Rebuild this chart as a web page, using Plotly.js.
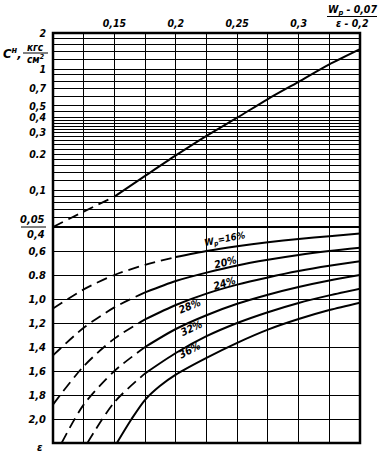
<!DOCTYPE html>
<html><head><meta charset="utf-8">
<script src="https://cdn.plot.ly/plotly-3.0.1.min.js"></script>
<style>html,body{margin:0;padding:0;background:#fff;}#chart{width:380px;height:454px;}</style>
</head><body><div id="chart"></div>
<script>
// ---- top scale: (Wp - 0,07)/(eps - 0,2)
const xGrid = [0.1,0.125,0.15,0.175,0.2,0.225,0.25,0.275,0.3,0.325,0.35];
const xTickText = ['','','0,15','','0,2','','0,25','','0,3','',''];

// ---- upper panel: C^н (log scale)
const cGrid = [2,1.8,1.6,1.4,1.2,1,0.9,0.8,0.7,0.6,0.5,0.45,0.4,0.38,0.36,0.34,0.32,0.3,0.28,0.26,0.24,0.22,0.2,0.18,0.16,0.14,0.12,0.1,0.09,0.08,0.07,0.06,0.05];
const cGridText = ['2','','','','','1','','','0,7','','0,5','','0,4','','','','','0,3','','','','','0.2','','','','','0,1','','','','',''];
const cX   = [0.1,0.125,0.15,0.175,0.2,0.225,0.25,0.275,0.3,0.325,0.35];
const cVal = [0.05,0.067,0.089,0.132,0.195,0.283,0.40,0.57,0.79,1.10,1.47];
const cSolidFrom = 0.15;

// ---- lower panel: eps for Wp curves
const eGrid = [0.4,0.6,0.8,1.0,1.2,1.4,1.6,1.8,2.0,2.2];
const eGridText = ['','0,6','0.8','1,0','1,2','1,4','1,6','1,8','2,0',''];
const wpNames = ['16%','20%','24%','28%','32%','36%'];
const x16 = [0.1,0.125,0.15,0.175,0.2,0.225,0.25,0.275,0.3,0.325,0.35];
const e16 = [1.08,0.92,0.80,0.715,0.65,0.60,0.56,0.527,0.50,0.477,0.455];
const x20 = [0.1,0.125,0.15,0.175,0.2,0.225,0.25,0.275,0.3,0.325,0.35];
const e20 = [1.47,1.24,1.07,0.945,0.85,0.78,0.72,0.673,0.633,0.60,0.572];
const x24 = [0.1,0.125,0.15,0.175,0.2,0.225,0.25,0.275,0.3,0.325,0.35];
const e24 = [1.88,1.56,1.33,1.17,1.05,0.955,0.88,0.82,0.767,0.723,0.686];
const x28 = [0.107,0.125,0.15,0.175,0.2,0.225,0.25,0.275,0.3,0.325,0.35];
const e28 = [2.2,1.88,1.6,1.4,1.25,1.135,1.04,0.964,0.90,0.846,0.80];
const x32 = [0.128,0.15,0.175,0.2,0.225,0.25,0.275,0.3,0.325,0.35];
const e32 = [2.2,1.86,1.62,1.45,1.31,1.2,1.11,1.033,0.97,0.914];
const x36 = [0.152,0.164,0.175,0.187,0.2,0.225,0.25,0.275,0.3,0.325,0.35];
const e36 = [2.2,2.0,1.84,1.725,1.63,1.49,1.365,1.255,1.167,1.092,1.03];
const wpSolidFrom = [0.2,0.175,0.175,0.175,0.175,0];

// ---------------------------------------------------------------
const W = 380, H = 454, L = 53, R = 20, T = 33, B = 11;
const pw = W - L - R, ph = H - T - B;
const split = 216 / ph;
const px = x => (x - L) / pw;
const py = y => 1 - (y - T) / ph;
const FF = 'DejaVu Sans Condensed, DejaVu Sans, sans-serif';
const font = (s) => ({family: FF, size: s, color: '#000', style: 'italic', weight: 'bold'});

function splitTraces(xs, ys, from, yaxis) {
  const out = [];
  const dx = [], dy = [], sx = [], sy = [];
  xs.forEach((x, i) => {
    if (x <= from + 1e-9) { dx.push(x); dy.push(ys[i]); }
    if (x >= from - 1e-9) { sx.push(x); sy.push(ys[i]); }
  });
  if (dx.length > 1) out.push({x: dx, y: dy, xaxis: 'x', yaxis: yaxis, mode: 'lines',
    line: {color: '#000', width: 1.8, dash: '11px,6px', shape: 'spline', smoothing: 0.8}, hoverinfo: 'skip'});
  if (sx.length > 1) out.push({x: sx, y: sy, xaxis: 'x', yaxis: yaxis, mode: 'lines',
    line: {color: '#000', width: 2, shape: 'spline', smoothing: 0.8}, hoverinfo: 'skip'});
  return out;
}

let traces = [];
traces = traces.concat(splitTraces(cX, cVal, cSolidFrom, 'y'));
const wpX = [x16, x20, x24, x28, x32, x36];
const wpE = [e16, e20, e24, e28, e32, e36];
wpX.forEach((xs, i) => { traces = traces.concat(splitTraces(xs, wpE[i], wpSolidFrom[i], 'y2')); });

const axisCommon = {showgrid: true, gridcolor: '#000', gridwidth: 1, zeroline: false, showline: false,
  ticks: '', fixedrange: true};

const layout = {
  width: W, height: H, margin: {l: L, r: R, t: T, b: B}, showlegend: false,
  paper_bgcolor: '#fff', plot_bgcolor: '#fff',
  xaxis: Object.assign({}, axisCommon, {range: [0.1, 0.35], tickmode: 'array', tickvals: xGrid,
    ticktext: xTickText, side: 'top', anchor: 'y', ticklabelstandoff: 3, tickfont: font(10.5)}),
  yaxis: Object.assign({}, axisCommon, {type: 'log', range: [Math.log10(0.05), Math.log10(2)],
    domain: [split, 1], tickmode: 'array', tickvals: cGrid, ticktext: cGridText, anchor: 'x',
    ticklabelstandoff: 6, tickfont: font(10.5)}),
  yaxis2: Object.assign({}, axisCommon, {range: [2.2, 0.4], domain: [0, split], tickmode: 'array',
    tickvals: eGrid, ticktext: eGridText, anchor: 'x', ticklabelstandoff: 6, tickfont: font(11)}),
  shapes: [
    {type: 'rect', xref: 'paper', yref: 'paper', x0: 0, x1: 1, y0: 0, y1: 1, line: {color: '#000', width: 2.5}},
    {type: 'line', xref: 'paper', yref: 'paper', x0: 0, x1: 1, y0: split, y1: split, line: {color: '#000', width: 2}},
    {type: 'line', xref: 'paper', yref: 'paper', x0: px(21), x1: px(46), y0: py(227), y1: py(227), line: {color: '#000', width: 1}},
    {type: 'line', xref: 'paper', yref: 'paper', x0: px(23), x1: px(48), y0: py(53), y1: py(53), line: {color: '#000', width: 1}},
    {type: 'line', xref: 'paper', yref: 'paper', x0: px(327), x1: px(377), y0: py(16.5), y1: py(16.5), line: {color: '#000', width: 1}}
  ],
  annotations: [
    {text: '0,05', xref: 'paper', yref: 'paper', x: px(47), y: py(220), xanchor: 'right', yanchor: 'middle', showarrow: false, font: font(11)},
    {text: '0,4', xref: 'paper', yref: 'paper', x: px(47), y: py(234), xanchor: 'right', yanchor: 'middle', showarrow: false, font: font(11)},
    {text: 'ε', xref: 'paper', yref: 'paper', x: px(40), y: py(447), xanchor: 'center', yanchor: 'middle', showarrow: false, font: font(11)},
    {text: 'C<sup>н</sup>,', xref: 'paper', yref: 'paper', x: px(1), y: py(53), xanchor: 'left', yanchor: 'middle', showarrow: false, font: font(13)},
    {text: 'кгс', xref: 'paper', yref: 'paper', x: px(35), y: py(47), xanchor: 'center', yanchor: 'middle', showarrow: false, font: font(10)},
    {text: 'см<sup>2</sup>', xref: 'paper', yref: 'paper', x: px(36), y: py(59), xanchor: 'center', yanchor: 'middle', showarrow: false, font: font(10)},
    {text: 'W<sub>p</sub> - 0,07', xref: 'paper', yref: 'paper', x: px(352), y: py(10), xanchor: 'center', yanchor: 'middle', showarrow: false, font: font(10.5)},
    {text: 'ε - 0,2', xref: 'paper', yref: 'paper', x: px(352), y: py(23), xanchor: 'center', yanchor: 'middle', showarrow: false, font: font(10.5)},
    {text: 'W<sub>p</sub>=' + wpNames[0], xref: 'paper', yref: 'paper', x: px(225), y: py(239), textangle: -11, showarrow: false, font: font(9.5)},
    {text: wpNames[1], xref: 'paper', yref: 'paper', x: px(225), y: py(262), textangle: -14, showarrow: false, font: font(10.5)},
    {text: wpNames[2], xref: 'paper', yref: 'paper', x: px(224), y: py(283), textangle: -17, showarrow: false, font: font(10.5)},
    {text: wpNames[3], xref: 'paper', yref: 'paper', x: px(189), y: py(318), textangle: -22, showarrow: false, font: font(10.5)},
    {text: wpNames[4], xref: 'paper', yref: 'paper', x: px(191), y: py(341), textangle: -25, showarrow: false, font: font(10.5)},
    {text: wpNames[5], xref: 'paper', yref: 'paper', x: px(189), y: py(363), textangle: -28, showarrow: false, font: font(10.5)}
  ]
};

Plotly.newPlot('chart', traces, layout, {displayModeBar: false, staticPlot: true});
</script>
</body></html>
